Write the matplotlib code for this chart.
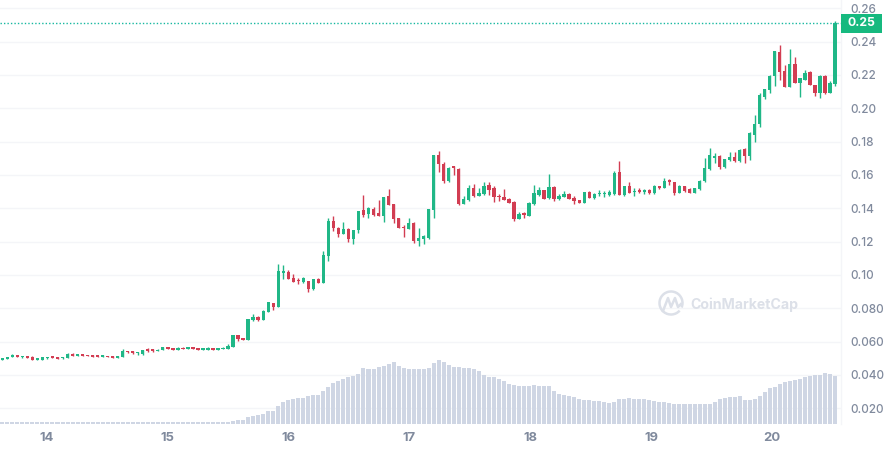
import matplotlib
matplotlib.use("Agg")
import matplotlib.pyplot as plt
import numpy as np
from matplotlib.patches import Rectangle, Arc
from matplotlib.lines import Line2D

plt.rcParams['font.family'] = ['Inter', 'DejaVu Sans']

opens = [
.0490,.0496,.0508,.0518,.0508,.0512,.0510,.0492,.0490,.0502,.0508,.0508,.0502,.0502,.0520,.0516,.0520,.0518,.0518,.0514,
.0510,.0512,.0512,.0502,.0510,.0542,.0542,.0532,.0528,.0550,.0550,.0544,.0550,.0566,.0560,.0552,.0560,.0556,.0568,.0560,
.0552,.0552,.0560,.0552,.0556,.0558,.0568,.0638,.0622,.0612,.0730,.0750,.0730,.0780,.0830,.0810,.1014,.1020,.0982,.0968,
.0958,.0964,.0916,.0976,.0954,.1114,.1324,.1284,.1248,.1278,.1218,.1272,.1390,.1368,.1396,.1370,.1354,.1474,.1426,.1340,
.1288,.1278,.1314,.1206,.1216,.1224,.1390,.1720,.1666,.1564,.1648,.1638,.1428,.1452,.1522,.1476,.1486,.1540,.1524,.1476,
.1468,.1456,.1440,.1338,.1370,.1356,.1426,.1480,.1510,.1460,.1530,.1456,.1470,.1488,.1464,.1450,.1434,.1498,.1460,.1484,
.1484,.1480,.1486,.1616,.1480,.1534,.1496,.1510,.1500,.1508,.1492,.1532,.1524,.1568,.1558,.1494,.1534,.1516,.1494,.1516,
.1564,.1634,.1704,.1716,.1648,.1688,.1708,.1682,.1758,.1714,.1840,.1904,.2070,.2110,.2194,.2340,.2226,.2130,.2266,.2154,
.2170,.2220,.2138,.2090,.2196,.2092,.2146]
closes = [
.0502,.0508,.0522,.0510,.0512,.0502,.0490,.0496,.0506,.0506,.0504,.0498,.0506,.0524,.0516,.0520,.0516,.0514,.0510,.0510,
.0514,.0508,.0502,.0514,.0544,.0536,.0532,.0536,.0548,.0546,.0546,.0552,.0568,.0556,.0550,.0560,.0556,.0566,.0558,.0552,
.0556,.0562,.0552,.0560,.0562,.0576,.0640,.0616,.0612,.0736,.0750,.0730,.0784,.0836,.0806,.1024,.1018,.0978,.0958,.0962,
.0980,.0916,.0976,.0954,.1120,.1324,.1282,.1248,.1276,.1218,.1268,.1384,.1360,.1402,.1362,.1356,.1466,.1422,.1338,.1284,
.1282,.1312,.1204,.1222,.1236,.1396,.1720,.1664,.1566,.1644,.1644,.1426,.1456,.1522,.1474,.1492,.1534,.1512,.1468,.1466,
.1452,.1434,.1336,.1366,.1360,.1434,.1492,.1512,.1458,.1528,.1458,.1476,.1486,.1458,.1444,.1432,.1498,.1462,.1486,.1488,
.1488,.1498,.1612,.1482,.1534,.1492,.1504,.1500,.1504,.1490,.1534,.1524,.1564,.1556,.1494,.1536,.1504,.1494,.1522,.1566,
.1642,.1718,.1716,.1650,.1696,.1708,.1684,.1752,.1714,.1850,.1904,.2080,.2116,.2196,.2344,.2220,.2130,.2266,.2154,.2180,
.2212,.2142,.2092,.2196,.2090,.2152,.2510]
highs = [
.0503,.0509,.0526,.0519,.0513,.0513,.0511,.0502,.0507,.0507,.0509,.0509,.0507,.0534,.0532,.0521,.0521,.0519,.0519,.0515,
.0520,.0513,.0513,.0515,.0554,.0543,.0543,.0537,.0549,.0560,.0558,.0553,.0569,.0567,.0561,.0568,.0568,.0567,.0569,.0561,
.0562,.0568,.0561,.0561,.0568,.0584,.0641,.0639,.0623,.0738,.0766,.0754,.0790,.0838,.0832,.1064,.1058,.1030,.1004,.0982,
.0986,.0966,.0978,.0980,.1144,.1340,.1354,.1286,.1316,.1280,.1270,.1386,.1480,.1408,.1408,.1450,.1468,.1514,.1428,.1342,
.1300,.1340,.1316,.1280,.1240,.1398,.1722,.1744,.1676,.1648,.1654,.1642,.1474,.1538,.1546,.1520,.1558,.1558,.1534,.1484,
.1514,.1460,.1444,.1376,.1378,.1440,.1538,.1528,.1512,.1606,.1534,.1484,.1502,.1494,.1474,.1452,.1500,.1502,.1492,.1510,
.1504,.1510,.1624,.1684,.1536,.1558,.1522,.1522,.1516,.1516,.1538,.1536,.1580,.1578,.1560,.1540,.1536,.1524,.1524,.1570,
.1700,.1760,.1730,.1718,.1698,.1736,.1736,.1756,.1760,.1856,.1960,.2090,.2118,.2200,.2346,.2380,.2260,.2356,.2310,.2182,
.2230,.2224,.2140,.2200,.2200,.2164,.2526]
lows = [
.0489,.0495,.0507,.0509,.0502,.0501,.0489,.0491,.0489,.0496,.0503,.0497,.0494,.0501,.0515,.0515,.0515,.0513,.0509,.0509,
.0509,.0507,.0501,.0501,.0509,.0530,.0526,.0522,.0522,.0536,.0540,.0543,.0549,.0555,.0549,.0551,.0555,.0555,.0557,.0551,
.0551,.0551,.0551,.0551,.0555,.0557,.0567,.0604,.0611,.0611,.0726,.0726,.0729,.0779,.0790,.0808,.0978,.0976,.0956,.0944,
.0954,.0900,.0910,.0952,.0952,.1084,.1266,.1230,.1246,.1200,.1188,.1250,.1350,.1344,.1356,.1354,.1320,.1420,.1310,.1282,
.1230,.1276,.1194,.1176,.1188,.1218,.1344,.1620,.1554,.1558,.1598,.1420,.1426,.1446,.1468,.1474,.1480,.1480,.1440,.1444,
.1450,.1432,.1326,.1334,.1340,.1354,.1420,.1472,.1456,.1458,.1446,.1450,.1468,.1456,.1428,.1430,.1432,.1460,.1454,.1472,
.1468,.1476,.1482,.1480,.1476,.1490,.1476,.1492,.1488,.1486,.1488,.1518,.1520,.1542,.1482,.1492,.1500,.1492,.1492,.1510,
.1560,.1630,.1674,.1636,.1644,.1686,.1678,.1678,.1674,.1690,.1798,.1888,.2054,.2092,.2136,.2170,.2126,.2128,.2150,.2068,
.2168,.2140,.2076,.2062,.2086,.2090,.2134]
volumes = [6]*46 + [
9,12,12,20,24,27,30,39,39,54,66,71,74,78,78,83,87,87,99,111,122,128,134,140,144,150,168,165,165,171,
174,179,185,174,168,165,165,165,164,168,182,191,186,177,171,171,168,168,165,159,147,141,141,135,129,120,117,114,114,114,
117,114,114,114,99,90,87,84,81,74,72,72,69,69,66,63,66,75,76,78,75,75,75,72,69,66,66,63,60,60,
60,60,60,60,60,60,66,75,79,81,81,84,72,72,75,84,96,108,112,120,126,129,132,135,141,144,147,148,153,150,144,153]
volumes = volumes[:167]
day_positions = [8.85, 32.9, 57.1, 81.1, 105.2, 129.4, 153.4]
day_labels = ['14', '15', '16', '17', '18', '19', '20']
price_ticks = [0.02, 0.04, 0.06, 0.08, 0.10, 0.12, 0.14, 0.16, 0.18, 0.20, 0.22, 0.24, 0.26]
price_labels = ['0.020', '0.040', '0.060', '0.080', '0.10', '0.12', '0.14', '0.16', '0.18', '0.20', '0.22', '0.24', '0.26']
last_price_label = '0.25'

W, H = 889, 450
GREEN = '#20B787'
RED = '#D23D52'
GRID = '#F4F5F8'
TICK = '#808A9D'
VOL = '#CFD6E4'

fig = plt.figure(figsize=(W/100, H/100), dpi=100, facecolor='white')
ax = fig.add_axes([0, (H-424)/H, 841/W, 424/H])
idx = np.arange(len(opens))
o, c, h, l = map(np.array, (opens, closes, highs, lows))
YMIN, YMAX = 0.01058, 0.26498
ax.set_xlim(-0.4645, 167.2)
ax.set_ylim(YMIN, YMAX)

ax.set_yticks(price_ticks)
ax.set_yticklabels(price_labels)
ax.yaxis.tick_right()
ax.set_xticks(day_positions)
ax.set_xticklabels(day_labels)
ax.tick_params(axis='y', length=0, pad=7, labelsize=8.5, labelcolor=TICK)
ax.tick_params(axis='x', length=0, pad=6, labelsize=9.4, labelcolor=TICK)
for t in ax.get_xticklabels():
    t.set_fontweight('bold')
for t in ax.get_yticklabels():
    t.set_fontweight('medium')
ax.grid(axis='y', color=GRID, lw=1, zorder=0)
ax.set_axisbelow(True)
for s in ['top', 'left', 'bottom']:
    ax.spines[s].set_visible(False)
ax.spines['right'].set_color(GRID)
ax.spines['right'].set_linewidth(1)

# volume, scaled into the lower part of the price axis
vol_scale = (YMAX - YMIN) / (424 * 3)
ax.bar(idx, np.array(volumes) * vol_scale, bottom=YMIN, width=0.8, color=VOL, lw=0, zorder=2)

# candles
colors = [GREEN if b >= a else RED for a, b in zip(o, c)]
ax.vlines(idx, l, h, colors=colors, lw=1.0, zorder=3)
bottoms = np.minimum(o, c)
heights = np.maximum(np.abs(c-o), 0.0007)
ax.bar(idx, heights, bottom=bottoms, width=0.66, color=colors, lw=0, zorder=4)

# last price line and tag
ax.axhline(closes[-1], color='#17B8A0', lw=1.0, ls=(0, (1, 1.5)), zorder=5)
ytag = (H - 23.3)/H
fig.add_artist(Rectangle((841/W, (H-33)/H), 41/W, 19/H, transform=fig.transFigure,
                         facecolor='#16B97F', edgecolor='none'))
fig.text(861.5/W, ytag, last_price_label, color='white', fontsize=8.8, fontweight='bold',
         ha='center', va='center')

# watermark
LOGO = '#DCE0E8'
fig.text(690/W, (H-305)/H, 'CoinMarketCap', color=LOGO, fontsize=10.2, fontweight='bold',
         ha='left', va='center', family=['Inter'])
fig.add_artist(Arc((671/W, (H-303)/H), 23/W, 23/H, theta1=-40, theta2=300, transform=fig.transFigure,
                   color=LOGO, lw=1.8))
mx = np.array([663, 668, 671, 675, 678, 681])
my = np.array([311, 298, 307, 298, 307, 304])
fig.add_artist(Line2D(mx/W, (H-my)/H, transform=fig.transFigure, color=LOGO, lw=1.8))

fig.savefig('out.png', dpi=100, facecolor='white')
